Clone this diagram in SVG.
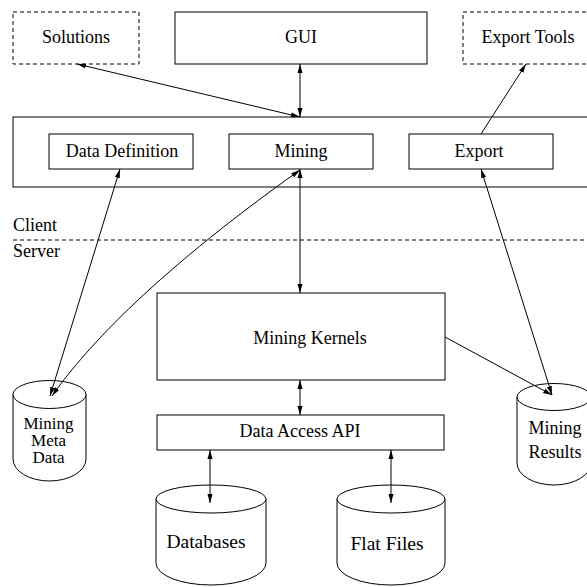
<svg xmlns="http://www.w3.org/2000/svg" width="587" height="587" viewBox="0 0 587 587">
<style>
.b{fill:#fff;stroke:#000;stroke-width:1}
.d{fill:#fff;stroke:#000;stroke-width:1;stroke-dasharray:4 3}
.t{font-family:"Liberation Serif","Times New Roman",serif;font-size:18px;fill:#000;text-anchor:middle}
.tl{font-family:"Liberation Serif","Times New Roman",serif;font-size:18px;fill:#000}
.big{font-size:19.5px}
.sm{font-size:17px}
.c{fill:none;stroke:#000;stroke-width:1}
.a{fill:none;stroke:#000;stroke-width:1;marker-end:url(#ah)}
.aa{fill:none;stroke:#000;stroke-width:1;marker-end:url(#ah);marker-start:url(#ahs)}
</style>
<defs>
<marker id="ah" markerWidth="10" markerHeight="8" refX="9" refY="3" orient="auto" markerUnits="userSpaceOnUse">
<path d="M0,0.5 L9,3 L0,5.5 Z" fill="#000"/>
</marker>
<marker id="ahs" markerWidth="10" markerHeight="8" refX="0" refY="3" orient="auto" markerUnits="userSpaceOnUse">
<path d="M9,0.5 L0,3 L9,5.5 Z" fill="#000"/>
</marker>
</defs>
<rect x="0" y="0" width="587" height="587" fill="#fff"/>

<g id="solutions">
<rect class="d" x="13" y="12" width="126" height="52"/>
<text class="t" x="76" y="43">Solutions</text>
</g>
<g id="gui">
<rect class="b" x="175" y="12" width="252" height="52"/>
<text class="t" x="301" y="43">GUI</text>
</g>
<g id="export-tools">
<rect class="d" x="463" y="12" width="130" height="52"/>
<text class="t" x="528" y="43">Export Tools</text>
</g>

<g id="client">
<rect class="b" x="13" y="117" width="580" height="70"/>
</g>
<g id="data-definition">
<rect class="b" x="49" y="134" width="144" height="35"/>
<text class="t" x="122" y="157">Data Definition</text>
</g>
<g id="mining">
<rect class="b" x="229" y="134" width="144" height="35"/>
<text class="t" x="301" y="157">Mining</text>
</g>
<g id="export">
<rect class="b" x="409" y="134" width="144" height="35"/>
<text class="t" x="479" y="157">Export</text>
</g>

<g id="boundary">
<line x1="13" y1="240" x2="587" y2="240" stroke="#000" stroke-width="1" stroke-dasharray="4 3"/>
<text class="tl" x="13" y="231">Client</text>
<text class="tl" x="13" y="257">Server</text>
</g>

<g id="mining-kernels">
<rect class="b" x="157" y="293" width="288" height="87"/>
<text class="t" x="310" y="344">Mining Kernels</text>
</g>
<g id="data-access-api">
<rect class="b" x="157" y="415" width="287" height="35"/>
<text class="t" x="300" y="437">Data Access API</text>
</g>

<g id="mining-meta-data">
<path class="b" d="M13,394.5 L13,459 A36.5,22 0 0 0 86,459 L86,394.5"/>
<ellipse class="b" cx="49.5" cy="394.5" rx="36.5" ry="14"/>
<text class="t sm" x="48.5" y="429"><tspan x="48.5" y="429">Mining</tspan><tspan x="48.5" y="446">Meta</tspan><tspan x="48.5" y="463">Data</tspan></text>
</g>
<g id="mining-results">
<path class="b" d="M517,397 L517,463 A37,22 0 0 0 591,463 L591,397"/>
<ellipse class="b" cx="554" cy="397" rx="37" ry="13.5"/>
<text class="t" x="555" y="434"><tspan x="555" y="434">Mining</tspan><tspan x="555" y="458">Results</tspan></text>
</g>
<g id="databases">
<path class="b" d="M156,499 L156,563 A55,22 0 0 0 266,563 L266,499"/>
<ellipse class="b" cx="211" cy="499" rx="55" ry="14"/>
<text class="t big" x="206" y="548">Databases</text>
</g>
<g id="flat-files">
<path class="b" d="M337,499 L337,563 A54,22 0 0 0 445,563 L445,499"/>
<ellipse class="b" cx="391" cy="499" rx="54" ry="14"/>
<text class="t big" x="387" y="550">Flat Files</text>
</g>

<g id="connectors">
<line class="aa" x1="300" y1="64" x2="300" y2="117"/>
<line class="aa" x1="300" y1="117" x2="77" y2="64"/>
<line class="a" x1="481" y1="134" x2="526" y2="64"/>
<line class="aa" x1="300" y1="169" x2="300" y2="293"/>
<line class="aa" x1="120" y1="169" x2="50" y2="396"/>
<path class="aa" d="M300,170 C145,280 80,356 52,396"/>
<line class="aa" x1="481" y1="169" x2="552" y2="395"/>
<line class="a" x1="445" y1="337" x2="552" y2="395"/>
<line class="aa" x1="300" y1="380" x2="300" y2="415"/>
<line class="aa" x1="210" y1="450" x2="210" y2="503"/>
<line class="aa" x1="391" y1="450" x2="391" y2="503"/>
</g>
</svg>
